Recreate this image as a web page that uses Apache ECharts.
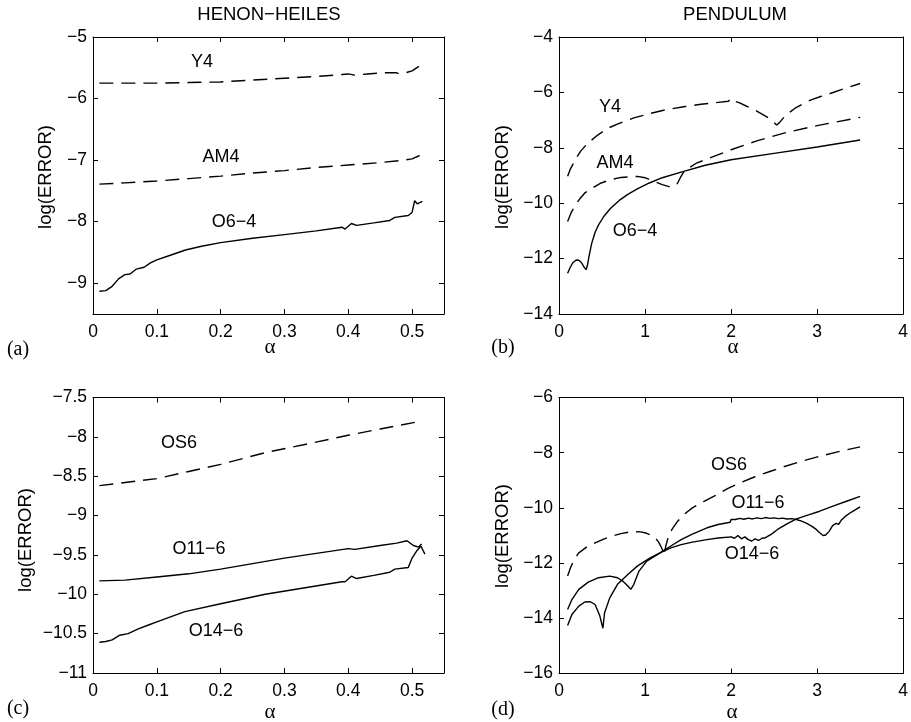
<!DOCTYPE html>
<html>
<head>
<meta charset="utf-8">
<script src="https://cdn.jsdelivr.net/npm/echarts@6/dist/echarts.min.js"></script>
<style>
  html, body { margin: 0; padding: 0; background: #fff; }
  #chart { width: 911px; height: 722px; }
</style>
</head>
<body>
<div id="chart"></div>
<script>
// ---- Tick values ----
const hhAlphaTicks = [0, 0.1, 0.2, 0.3, 0.4, 0.5];
const penAlphaTicks = [0, 1, 2, 3, 4];
const hhErrTicksA = [-9, -8, -7, -6, -5];
const penErrTicksB = [-14, -12, -10, -8, -6, -4];
const hhErrTicksC = [-11, -10.5, -10, -9.5, -9, -8.5, -8, -7.5];
const penErrTicksD = [-16, -14, -12, -10, -8, -6];

// ---- (a) Henon-Heiles, 4th order methods: [alpha, log(error)] ----
const hhY4 = [
  [0.01, -5.75], [0.05, -5.75], [0.1, -5.75], [0.15, -5.74], [0.2, -5.73],
  [0.25, -5.70], [0.3, -5.67], [0.35, -5.64], [0.39, -5.61], [0.40, -5.60],
  [0.41, -5.62], [0.43, -5.60], [0.46, -5.58], [0.475, -5.58], [0.48, -5.60],
  [0.49, -5.58], [0.50, -5.55], [0.51, -5.48], [0.515, -5.41]
];
const hhAM4 = [
  [0.01, -7.39], [0.05, -7.37], [0.1, -7.34], [0.15, -7.30], [0.2, -7.26],
  [0.25, -7.21], [0.3, -7.17], [0.35, -7.12], [0.4, -7.08], [0.45, -7.04],
  [0.48, -7.01], [0.5, -6.98], [0.515, -6.91]
];
const hhO64 = [
  [0.01, -9.13], [0.02, -9.12], [0.03, -9.05], [0.04, -8.93], [0.05, -8.86],
  [0.058, -8.85], [0.068, -8.77], [0.08, -8.74], [0.09, -8.67], [0.1, -8.62],
  [0.12, -8.55], [0.145, -8.46], [0.17, -8.40], [0.2, -8.34], [0.25, -8.27],
  [0.3, -8.21], [0.35, -8.15], [0.39, -8.09], [0.395, -8.12], [0.405, -8.03],
  [0.413, -8.06], [0.44, -8.02], [0.465, -7.98], [0.473, -7.93], [0.494, -7.90],
  [0.5, -7.85], [0.504, -7.66], [0.508, -7.71], [0.51, -7.74], [0.516, -7.67]
];

// ---- (b) Pendulum, 4th order methods ----
const penY4 = [
  [0.1, -9.03], [0.13, -8.78], [0.17, -8.55], [0.21, -8.32], [0.25, -8.13],
  [0.3, -7.95], [0.36, -7.77], [0.45, -7.54], [0.57, -7.29], [0.7, -7.12],
  [0.87, -6.92], [1.05, -6.77], [1.25, -6.62], [1.45, -6.52], [1.65, -6.43],
  [1.85, -6.36], [1.97, -6.32], [2.0, -6.22], [2.03, -6.30], [2.1, -6.38],
  [2.18, -6.50], [2.28, -6.64], [2.37, -6.80], [2.44, -6.93], [2.49, -7.06],
  [2.53, -7.18], [2.56, -7.10], [2.62, -6.88], [2.68, -6.72], [2.74, -6.58],
  [2.83, -6.42], [2.93, -6.27], [3.05, -6.14], [3.16, -6.03], [3.3, -5.88],
  [3.5, -5.68]
];
const penAM4 = [
  [0.1, -10.66], [0.14, -10.35], [0.19, -10.06], [0.24, -9.85], [0.3, -9.63],
  [0.4, -9.43], [0.49, -9.27], [0.6, -9.15], [0.72, -9.07], [0.91, -9.03],
  [1.0, -9.08], [1.1, -9.20], [1.2, -9.33], [1.28, -9.40], [1.33, -9.41],
  [1.37, -9.32], [1.41, -9.08], [1.44, -8.92], [1.5, -8.75], [1.6, -8.55],
  [1.8, -8.31], [2.0, -8.07], [2.3, -7.75], [2.65, -7.44], [3.0, -7.20],
  [3.5, -6.90]
];
const penO64 = [
  [0.1, -12.53], [0.13, -12.32], [0.16, -12.15], [0.2, -12.05], [0.23, -12.06],
  [0.26, -12.14], [0.29, -12.30], [0.315, -12.40], [0.33, -12.25], [0.35, -11.90],
  [0.38, -11.45], [0.42, -11.05], [0.46, -10.78], [0.52, -10.48], [0.6, -10.18],
  [0.7, -9.90], [0.8, -9.68], [0.91, -9.48], [1.05, -9.27], [1.2, -9.08],
  [1.44, -8.86], [1.7, -8.63], [2.0, -8.43], [2.5, -8.20], [3.0, -7.97],
  [3.5, -7.72]
];

// ---- (c) Henon-Heiles, 6th order methods ----
const hhOS6 = [
  [0.01, -8.62], [0.04, -8.59], [0.1, -8.53], [0.15, -8.44], [0.2, -8.35],
  [0.27, -8.20], [0.33, -8.10], [0.4, -7.98], [0.45, -7.90], [0.508, -7.81]
];
const hhO116 = [
  [0.01, -9.83], [0.05, -9.82], [0.1, -9.78], [0.15, -9.74], [0.2, -9.68],
  [0.25, -9.61], [0.3, -9.54], [0.35, -9.48], [0.4, -9.42], [0.41, -9.43],
  [0.45, -9.38], [0.476, -9.35], [0.492, -9.32], [0.502, -9.38], [0.51, -9.40],
  [0.515, -9.36]
];
const hhO146 = [
  [0.01, -10.61], [0.02, -10.60], [0.03, -10.58], [0.042, -10.52], [0.055, -10.50],
  [0.071, -10.44], [0.087, -10.39], [0.1, -10.35], [0.144, -10.22], [0.2, -10.12],
  [0.27, -10.00], [0.33, -9.92], [0.39, -9.84], [0.395, -9.84], [0.405, -9.77],
  [0.413, -9.80], [0.44, -9.76], [0.465, -9.72], [0.473, -9.68], [0.494, -9.66],
  [0.5, -9.54], [0.508, -9.44], [0.514, -9.39], [0.52, -9.49]
];

// ---- (d) Pendulum, 6th order methods ----
const penOS6 = [
  [0.1, -12.47], [0.13, -12.2], [0.17, -11.9], [0.23, -11.63], [0.32, -11.42],
  [0.42, -11.27], [0.52, -11.13], [0.61, -11.03], [0.72, -10.93], [0.84, -10.86],
  [0.95, -10.87], [1.02, -10.92], [1.08, -11.0], [1.12, -11.09], [1.16, -11.25],
  [1.2, -11.5], [1.22, -11.72], [1.24, -11.4], [1.28, -10.95], [1.33, -10.7],
  [1.38, -10.48], [1.46, -10.22], [1.55, -10.0], [1.68, -9.77], [1.82, -9.55],
  [1.97, -9.28], [2.1, -9.1], [2.27, -8.88], [2.45, -8.68], [2.6, -8.52],
  [2.8, -8.33], [3.03, -8.13], [3.25, -7.96], [3.5, -7.79]
];
const penO116 = [
  [0.1, -13.68], [0.15, -13.32], [0.23, -12.95], [0.34, -12.69], [0.46, -12.53],
  [0.59, -12.47], [0.68, -12.53], [0.74, -12.65], [0.80, -12.83], [0.835, -12.95],
  [0.87, -12.77], [0.93, -12.29], [1.02, -11.93], [1.18, -11.62], [1.3, -11.38],
  [1.42, -11.15], [1.55, -10.95], [1.72, -10.72], [1.85, -10.60], [1.99, -10.52],
  [2.0, -10.42], [2.05, -10.42], [2.1, -10.38], [2.15, -10.41], [2.2, -10.37],
  [2.25, -10.40], [2.3, -10.36], [2.35, -10.39], [2.4, -10.35], [2.45, -10.38],
  [2.5, -10.36], [2.55, -10.39], [2.6, -10.37], [2.65, -10.40], [2.7, -10.39],
  [2.76, -10.42], [2.82, -10.48], [2.88, -10.56], [2.94, -10.67], [2.99, -10.78],
  [3.03, -10.90], [3.07, -11.0], [3.1, -10.98], [3.14, -10.85], [3.18, -10.64],
  [3.22, -10.56], [3.25, -10.60], [3.28, -10.45], [3.33, -10.30], [3.4, -10.15],
  [3.5, -9.96]
];
const penO146 = [
  [0.1, -14.26], [0.15, -13.86], [0.23, -13.56], [0.30, -13.41], [0.36, -13.40],
  [0.42, -13.50], [0.475, -13.92], [0.51, -14.36], [0.53, -13.80], [0.59, -13.26],
  [0.68, -12.77], [0.80, -12.41], [0.91, -12.11], [1.06, -11.81], [1.18, -11.62],
  [1.3, -11.45], [1.42, -11.33], [1.55, -11.24], [1.72, -11.15], [1.85, -11.09],
  [2.0, -11.05], [2.04, -11.10], [2.08, -11.00], [2.12, -11.12], [2.16, -11.05],
  [2.2, -11.15], [2.24, -11.20], [2.28, -11.12], [2.32, -11.18], [2.36, -11.10],
  [2.4, -11.08], [2.47, -10.95], [2.54, -10.78], [2.65, -10.58], [2.76, -10.40],
  [2.9, -10.25], [3.03, -10.12], [3.2, -9.92], [3.35, -9.75], [3.5, -9.58]
];

// ---- Layout of the four panels ----
const panels = [
  { left: 93,  top: 37,    width: 351, height: 277, xMin: 0, xMax: 0.55, yMin: -9.5, yMax: -5,   xTicks: hhAlphaTicks,  yTicks: hhErrTicksA },
  { left: 559, top: 37,    width: 351, height: 277, xMin: 0, xMax: 4,    yMin: -14,  yMax: -4,   xTicks: penAlphaTicks, yTicks: penErrTicksB },
  { left: 93,  top: 397.5, width: 351, height: 275.5, xMin: 0, xMax: 0.55, yMin: -11, yMax: -7.5, xTicks: hhAlphaTicks,  yTicks: hhErrTicksC },
  { left: 559, top: 397.5, width: 351, height: 276, xMin: 0, xMax: 4,    yMin: -16,  yMax: -6,   xTicks: penAlphaTicks, yTicks: penErrTicksD }
];

const SANS = '"Liberation Sans", Arial, Helvetica, sans-serif';
const SERIF = '"Liberation Serif", "Times New Roman", serif';
const fmtNum = v => String(v).replace('-', '\u2212');

const grids = [], xAxes = [], yAxes = [];
panels.forEach((p, i) => {
  grids.push({ left: p.left, top: p.top, width: p.width, height: p.height, containLabel: false });
  const line = { show: true, onZero: false, lineStyle: { color: '#000', width: 1 } };
  const tickX = { show: true, inside: true, length: 5, customValues: p.xTicks, lineStyle: { color: '#000', width: 1 } };
  const tickY = { show: true, inside: true, length: 5, customValues: p.yTicks, lineStyle: { color: '#000', width: 1 } };
  xAxes.push({
    type: 'value', gridIndex: i, position: 'bottom', min: p.xMin, max: p.xMax,
    axisLine: line, axisTick: tickX, splitLine: { show: false },
    axisLabel: { customValues: p.xTicks, formatter: fmtNum, color: '#000', fontSize: 17.5, fontFamily: SANS, margin: 9 }
  });
  xAxes.push({
    type: 'value', gridIndex: i, position: 'top', min: p.xMin, max: p.xMax,
    axisLine: line, axisTick: tickX, splitLine: { show: false }, axisLabel: { show: false }
  });
  yAxes.push({
    type: 'value', gridIndex: i, position: 'left', min: p.yMin, max: p.yMax,
    axisLine: line, axisTick: tickY, splitLine: { show: false },
    axisLabel: { customValues: p.yTicks, formatter: fmtNum, color: '#000', fontSize: 17.5, fontFamily: SANS, margin: 6 }
  });
  yAxes.push({
    type: 'value', gridIndex: i, position: 'right', min: p.yMin, max: p.yMax,
    axisLine: line, axisTick: tickY, splitLine: { show: false }, axisLabel: { show: false }
  });
});

function curve(data, panel, dashed) {
  return {
    type: 'line', data: data, xAxisIndex: panel * 2, yAxisIndex: panel * 2,
    showSymbol: false, symbol: 'none', smooth: false, silent: true,
    lineStyle: { color: '#000', width: 1.4, type: dashed ? [14, 8] : 'solid' }
  };
}

const series = [
  curve(hhY4, 0, true), curve(hhAM4, 0, true), curve(hhO64, 0, false),
  curve(penY4, 1, true), curve(penAM4, 1, true), curve(penO64, 1, false),
  curve(hhOS6, 2, true), curve(hhO116, 2, false), curve(hhO146, 2, false),
  curve(penOS6, 3, true), curve(penO116, 3, false), curve(penO146, 3, false)
];

function txt(text, x, y, size, family, rot) {
  return {
    type: 'text', x: x, y: y, rotation: rot || 0, silent: true,
    style: { text: text, align: 'center', verticalAlign: 'middle', fill: '#000',
             font: size + 'px ' + family }
  };
}

const graphic = [
  txt('HENON\u2212HEILES', 269, 15, 18.5, SANS),
  txt('PENDULUM', 735, 15, 18.5, SANS),
  txt('log(ERROR)', 46, 177, 18.5, SANS, Math.PI / 2),
  txt('log(ERROR)', 503, 177, 18.5, SANS, Math.PI / 2),
  txt('log(ERROR)', 26, 540, 18.5, SANS, Math.PI / 2),
  txt('log(ERROR)', 503, 536, 18.5, SANS, Math.PI / 2),
  txt('\u03b1', 270, 347, 21, SERIF),
  txt('\u03b1', 733, 347, 21, SERIF),
  txt('\u03b1', 270, 712, 21, SERIF),
  txt('\u03b1', 732, 712, 21, SERIF),
  txt('(a)', 18, 350, 20, SERIF),
  txt('(b)', 503, 348, 20, SERIF),
  txt('(c)', 18, 709, 20, SERIF),
  txt('(d)', 503, 710, 20, SERIF),
  // curve names
  txt('Y4', 202, 62, 18, SANS),
  txt('AM4', 221, 157, 18, SANS),
  txt('O6\u22124', 234, 222, 18, SANS),
  txt('Y4', 610, 107, 18, SANS),
  txt('AM4', 615, 163, 18, SANS),
  txt('O6\u22124', 635, 231, 18, SANS),
  txt('OS6', 179, 443, 18, SANS),
  txt('O11\u22126', 199, 549, 18, SANS),
  txt('O14\u22126', 216, 631, 18, SANS),
  txt('OS6', 729, 465, 18, SANS),
  txt('O11\u22126', 758, 503, 18, SANS),
  txt('O14\u22126', 752, 554, 18, SANS)
];

const chart = echarts.init(document.getElementById('chart'), null, { renderer: 'canvas' });
chart.setOption({
  backgroundColor: '#fff',
  animation: false,
  grid: grids,
  xAxis: xAxes,
  yAxis: yAxes,
  series: series,
  graphic: graphic
});
</script>
</body>
</html>
